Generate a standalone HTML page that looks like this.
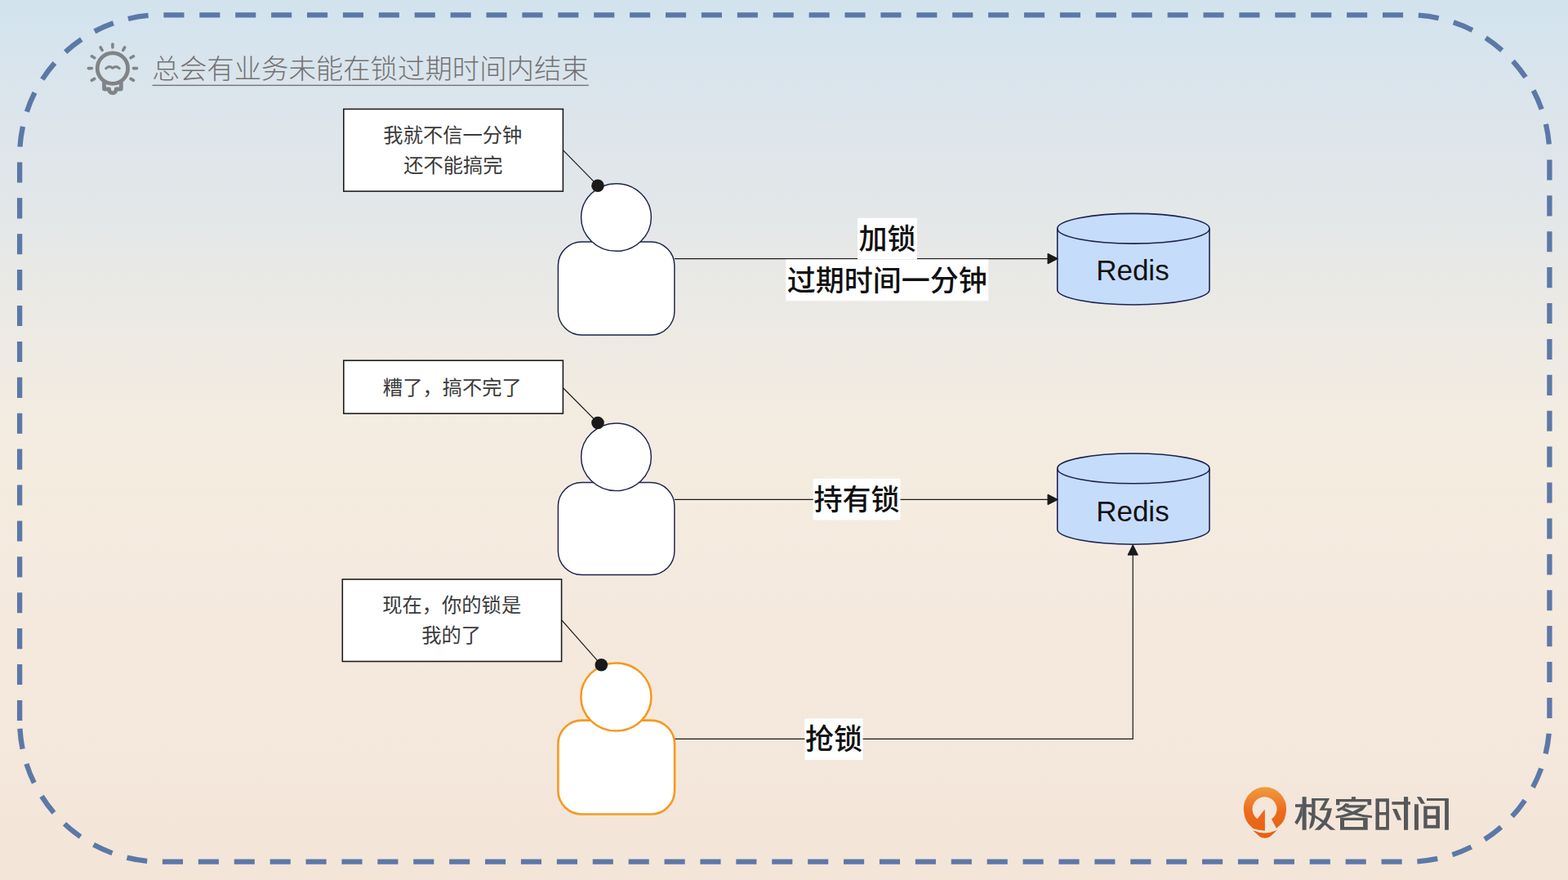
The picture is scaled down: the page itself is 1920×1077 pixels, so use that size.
<!DOCTYPE html>
<html lang="zh-CN">
<head>
<meta charset="utf-8">
<title>总会有业务未能在锁过期时间内结束</title>
<style>
html,body{margin:0;padding:0;background:#f5e6d8;}
body{width:1920px;height:1077px;overflow:hidden;font-family:"Liberation Sans",sans-serif;}
#slide{position:relative;width:1920px;height:1077px;overflow:hidden;
background:linear-gradient(180deg,#d2e3ee 0%,#dce5ec 12%,#e3e7e8 24%,#edeae4 37%,#f4ece0 50%,#f5e9de 72%,#f3e5d8 100%);}
#slide svg{position:absolute;left:0;top:0;display:block;}
#slide svg text{font-family:"Liberation Sans","Noto Sans CJK SC",sans-serif;}
</style>
</head>
<body>
<div id="slide">
<svg width="1920" height="1077" viewBox="0 0 1920 1077">
<path class="frame" d="M24.10 882.00 V190.90 A172.60 172.60 0 0 1 196.70 18.30 H1724.80 A172.60 172.60 0 0 1 1897.40 190.90 V882.00 A172.60 172.60 0 0 1 1724.80 1054.60 H196.70 A172.60 172.60 0 0 1 24.10 882.00" fill="none" stroke="#5b78a8" stroke-width="6.30" stroke-dasharray="25.10 18.80"/>
<g class="bulb" fill="none" stroke="#808486" stroke-linecap="round" stroke-linejoin="round"><circle cx="137.9" cy="83.6" r="18.7" stroke-width="4.8"/><path d="M115.7 96.4L112.3 98.4" stroke-width="3.6"/><path d="M115.7 70.8L112.3 68.8" stroke-width="3.6"/><path d="M125.1 61.4L123.1 58.0" stroke-width="3.6"/><path d="M137.9 58.0L137.9 54.0" stroke-width="3.6"/><path d="M150.7 61.4L152.7 58.0" stroke-width="3.6"/><path d="M160.1 70.8L163.5 68.8" stroke-width="3.6"/><path d="M160.1 96.4L163.5 98.4" stroke-width="3.6"/><path d="M112.3 83.6L108.3 83.6" stroke-width="3.6"/><path d="M163.5 83.6L167.5 83.6" stroke-width="3.6"/><path d="M129.7 83.7Q133.7 79.5 137.9 83.5Q142.2 79.5 146.3 83.7" stroke-width="3"/><path d="M127.5 100V109H133.6Q133.8 113.9 137.9 113.9Q142 113.9 142.2 109H148.3V100" stroke-width="4.8"/></g>
<text x="186.5" y="96.4" font-size="33.4" font-weight="300" fill="#767171">总会有业务未能在锁过期时间内结束</text>
<rect x="186.5" y="103.75" width="534.4" height="1.35" fill="#767171"/>
<path d="M826 316.6H1284" fill="none" stroke="#1a1a1a" stroke-width="1.20"/>
<path d="M826 611.4H1284" fill="none" stroke="#1a1a1a" stroke-width="1.20"/>
<path d="M826 904.4H1387.2V678" fill="none" stroke="#1a1a1a" stroke-width="1.20"/>
<rect x="420.80" y="133.50" width="268.60" height="100.60" fill="#fff" stroke="#1a1a1a" stroke-width="1.57"/>
<rect x="420.80" y="441.20" width="268.60" height="64.90" fill="#fff" stroke="#1a1a1a" stroke-width="1.57"/>
<rect x="419.30" y="709.00" width="268.30" height="100.50" fill="#fff" stroke="#1a1a1a" stroke-width="1.57"/>
<path d="M689.8 184.2L732 227.2" fill="none" stroke="#1a1a1a" stroke-width="1.20"/>
<path d="M689.8 475.0L732 517.5" fill="none" stroke="#1a1a1a" stroke-width="1.20"/>
<path d="M688.0 759.2L736.3 813.8" fill="none" stroke="#1a1a1a" stroke-width="1.20"/>
<text x="469.35" y="174" font-size="24.3" fill="#3a3a3a">我就不信一分钟</text>
<text x="494.15" y="210.5" font-size="24.3" fill="#3a3a3a">还不能搞完</text>
<text x="468.85" y="483.2" font-size="24.3" fill="#3a3a3a">糟了，搞不完了</text>
<text x="468.15" y="749.4" font-size="24.3" fill="#3a3a3a">现在，你的锁是</text>
<text x="516.15" y="786.1" font-size="24.3" fill="#3a3a3a">我的了</text>
<rect x="683.40" y="295.90" width="142.50" height="114.20" rx="29.0" ry="29.0" fill="#fff" stroke="#1b2250" stroke-width="1.45"/>
<ellipse cx="754.50" cy="266.05" rx="42.90" ry="41.30" fill="#fff" stroke="#1b2250" stroke-width="1.45"/>
<rect x="683.40" y="590.40" width="142.50" height="113.00" rx="29.0" ry="29.0" fill="#fff" stroke="#1b2250" stroke-width="1.45"/>
<ellipse cx="754.50" cy="559.30" rx="42.90" ry="41.30" fill="#fff" stroke="#1b2250" stroke-width="1.45"/>
<rect x="683.40" y="881.60" width="142.70" height="114.90" rx="29.0" ry="29.0" fill="#fff" stroke="#f59a20" stroke-width="2.60"/>
<ellipse cx="754.40" cy="853.00" rx="43.10" ry="41.50" fill="#fff" stroke="#f59a20" stroke-width="2.60"/>
<circle cx="732.0" cy="227.2" r="7.8" fill="#1a1a1a"/>
<circle cx="732.0" cy="517.5" r="7.8" fill="#1a1a1a"/>
<circle cx="736.3" cy="813.8" r="7.8" fill="#1a1a1a"/>
<path d="M1294.75 279.75A93.12 18.40 0 0 1 1481.00 279.75V354.55A93.12 18.40 0 0 1 1294.75 354.55Z" fill="#c6dcfb" stroke="#1b2250" stroke-width="1.57"/>
<path d="M1294.75 279.75A93.12 18.40 0 0 0 1481.00 279.75" fill="none" stroke="#1b2250" stroke-width="1.57"/>
<path d="M1294.75 573.40A93.12 18.40 0 0 1 1481.00 573.40V647.80A93.12 18.40 0 0 1 1294.75 647.80Z" fill="#c6dcfb" stroke="#1b2250" stroke-width="1.57"/>
<path d="M1294.75 573.40A93.12 18.40 0 0 0 1481.00 573.40" fill="none" stroke="#1b2250" stroke-width="1.57"/>
<path d="M1295.4 316.6L1283 310.3V322.9Z" fill="#1a1a1a" stroke="#1a1a1a" stroke-width="1" stroke-linejoin="miter"/>
<path d="M1295.4 611.4L1283 605.1V617.7Z" fill="#1a1a1a" stroke="#1a1a1a" stroke-width="1"/>
<path d="M1387.2 666.8L1381 679.2H1393.4Z" fill="#1a1a1a" stroke="#1a1a1a" stroke-width="1"/>
<text x="1386.9" y="343.3" font-size="35" font-weight="500" text-anchor="middle" fill="#111">Redis</text>
<text x="1386.9" y="637.9" font-size="35" font-weight="500" text-anchor="middle" fill="#111">Redis</text>
<rect x="1050.00" y="266.90" width="73.00" height="50.68" fill="#fff"/>
<text x="1051.5" y="304.9" font-size="35" font-weight="500" fill="#111">加锁</text>
<rect x="962.30" y="317.60" width="248.00" height="50.68" fill="#fff"/>
<text x="963.8" y="355.6" font-size="35" font-weight="500" fill="#111">过期时间一分钟</text>
<rect x="995.70" y="585.80" width="106.80" height="50.68" fill="#fff"/>
<text x="996.6" y="623.8" font-size="35" font-weight="500" fill="#111">持有锁</text>
<rect x="985.40" y="879.40" width="71.20" height="50.68" fill="#fff"/>
<text x="986" y="917.4" font-size="35" font-weight="500" fill="#111">抢锁</text>
<g class="logo"><defs><linearGradient id="lg" gradientUnits="userSpaceOnUse" x1="0" y1="103" x2="0" y2="950"><stop offset="0" stop-color="#f39c3f"/><stop offset="0.5" stop-color="#ec6a1c"/><stop offset="1" stop-color="#e95f10"/></linearGradient></defs><g class="logo-icon" transform="translate(1515 955) scale(0.074311)" fill="url(#lg)"><path d="M645 792L728 715Q795 645 806 500A351.5 351.5 0 1 0 107 500Q118 645 188 722L262 794Q350 826 456 830L456 490L447 485L330 635A201 201 0 1 1 565 640Z"/><path d="M252 820Q456 914 660 818L545 926Q456 978 367 926Z"/></g><g class="logo-text" role="img" aria-label="极客时间" transform="translate(1580 965) scale(0.05571)" fill="#55575a" fill-rule="evenodd"><title>极客时间</title><path d="M262 182H352V912H262Z"/><path d="M108 345H470V410H108Z"/><path d="M232 410L262 410L262 590Q215 700 150 795L92 745Q180 640 232 410Z"/><path d="M470 215H860L835 265H470Z"/><path d="M470 215H548V560Q545 720 500 815Q470 870 415 895Q425 800 455 700Q472 620 470 505Z"/><path d="M860 215L750 435L915 435L870 620L800 760L650 912L530 912L700 750L775 620L815 480L635 480L762 265Z"/><path d="M395 505L470 540L700 680L850 800L990 905L985 912L880 912L760 800L620 690L400 565Z"/><path d="M1345 182H1435V242H1345Z"/><path d="M1005 235H1780V365H1695V290H1085V365H1005Z"/><path d="M1215 325L1300 340L1185 440L1050 505L1018 455L1140 400Z"/><path d="M1250 365L1690 365L1590 480L1400 570L1150 635L1000 650L995 600L1130 585L1350 515L1500 440L1545 420L1230 420Z"/><path d="M1130 470L1200 430L1400 520L1600 575L1795 595L1795 645L1600 630L1380 570Z"/><path d="M1095 640H1700V912H1095ZM1185 700H1600V845H1185Z"/><path d="M1875 222H2170V912H1875ZM1955 290H2103V520H1955ZM1955 585H2103V845H1955Z"/><path d="M2233 290H2637V355H2233Z"/><path d="M2495 182H2587V912H2495Z"/><path d="M2245 450L2337 450L2443 695L2355 695Z"/><path d="M2727 345H2817V912H2727Z"/><path d="M2780 182L2870 182L2963 335L2875 335Z"/><path d="M2997 215H3480V912H3395V268H2997Z"/><path d="M2930 385H3283V875H2930ZM3010 455H3200V590H3010ZM3010 665H3200V805H3010Z"/></g></g>
</svg>
</div>
</body>
</html>
